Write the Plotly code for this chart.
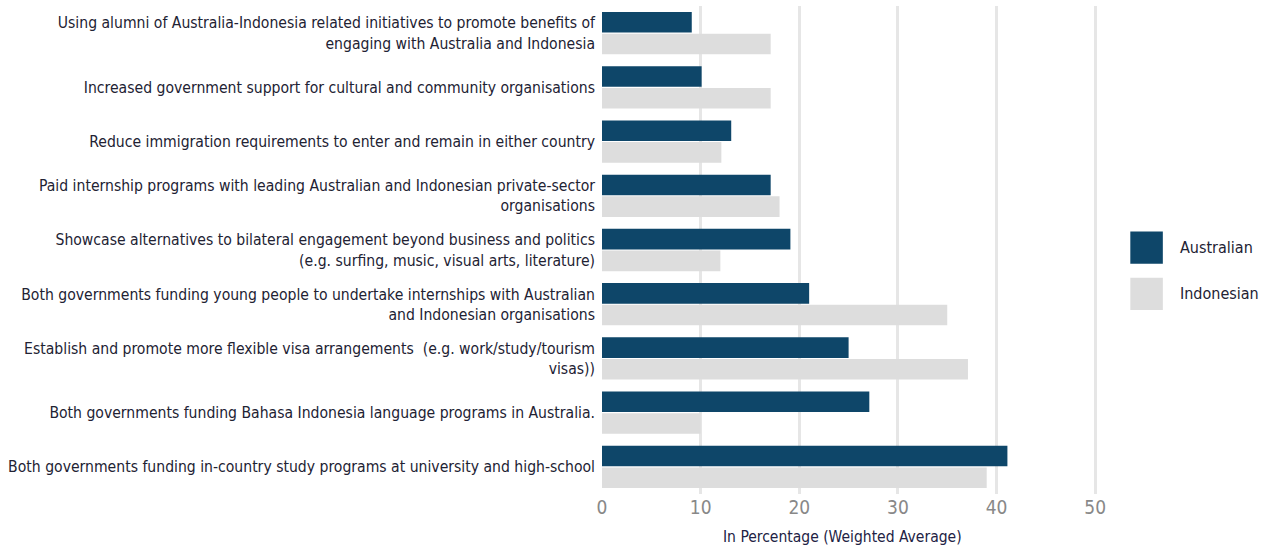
import plotly.graph_objects as go

categories = [
    "Using alumni of Australia-Indonesia related initiatives to promote benefits of<br>engaging with Australia and Indonesia",
    "Increased government support for cultural and community organisations",
    "Reduce immigration requirements to enter and remain in either country",
    "Paid internship programs with leading Australian and Indonesian private-sector<br>organisations",
    "Showcase alternatives to bilateral engagement beyond business and politics<br>(e.g. surfing, music, visual arts, literature)",
    "Both governments funding young people to undertake internships with Australian<br>and Indonesian organisations",
    "Establish and promote more flexible visa arrangements  (e.g. work/study/tourism<br>visas))",
    "Both governments funding Bahasa Indonesia language programs in Australia.",
    "Both governments funding in-country study programs at university and high-school",
]
australian = [9.1, 10.1, 13.1, 17.1, 19.1, 21.0, 25.0, 27.1, 41.1]
indonesian = [17.1, 17.1, 12.1, 18.0, 12.0, 35.0, 37.1, 10.0, 39.0]
series_names = ["Australian", "Indonesian"]
colors = ["#0e4669", "#dddddd"]
x_ticks = [0, 10, 20, 30, 40, 50]
x_title = "In Percentage (Weighted Average)"

FONT = "Liberation Sans Narrow, DejaVu Sans Condensed, Arial Narrow, sans-serif"

fig = go.Figure()
for name, vals, col in zip(series_names, [australian, indonesian], colors):
    fig.add_trace(go.Bar(
        y=categories, x=vals, name=name, orientation="h",
        marker=dict(color=col, line=dict(width=0)),
        showlegend=False,
    ))

# custom legend
leg_y = [0.505, 0.41]
for name, col, yy in zip(series_names, colors, leg_y):
    fig.add_shape(type="rect", xref="paper", yref="paper",
                  x0=1.04, x1=1.104, y0=yy - 0.033, y1=yy + 0.033,
                  fillcolor=col, line=dict(width=0))
    fig.add_annotation(xref="paper", yref="paper", x=1.133, y=yy,
                       text=name, showarrow=False, xanchor="left",
                       font=dict(family=FONT, size=16, color="#222233"))

# x-axis title (slightly left of centre, as in the reference)
fig.add_annotation(xref="paper", yref="paper", x=0.4725, y=-0.088,
                   text=x_title, showarrow=False, xanchor="center",
                   yanchor="middle",
                   font=dict(family=FONT, size=15.5, color="#222244"))

fig.update_layout(
    width=1272, height=547,
    margin=dict(l=602, r=162, t=6, b=53, autoexpand=False),
    plot_bgcolor="white", paper_bgcolor="white",
    barmode="group", bargap=0.2, bargroupgap=0.05,
    font=dict(family=FONT, color="#222233"),
    xaxis=dict(
        range=[0, 51.5], tickvals=x_ticks, showgrid=True,
        gridcolor="#e6e6e6", gridwidth=3, zeroline=False,
        tickfont=dict(family=FONT, size=19, color="#888888"),
        ticks="", showline=False,
    ),
    yaxis=dict(
        autorange="reversed", showgrid=False, ticks="",
        tickfont=dict(family=FONT, size=15.6, color="#222233"),
        ticklabelstandoff=6,
    ),
)

fig.write_html("out.html")
